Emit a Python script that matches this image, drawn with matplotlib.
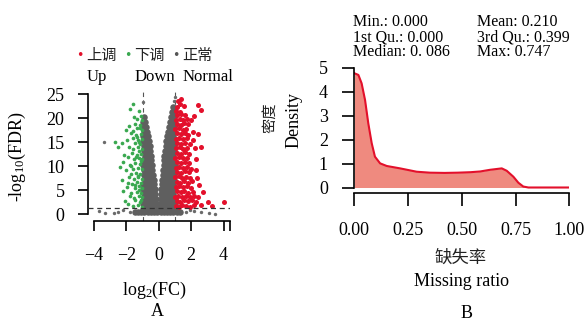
import matplotlib
matplotlib.use('Agg')
import matplotlib.pyplot as plt
import numpy as np

plt.rcParams['font.family'] = ['Liberation Serif', 'DejaVu Sans']
plt.rcParams['mathtext.fontset'] = 'custom'
plt.rcParams['mathtext.rm'] = 'Liberation Serif'
plt.rcParams['mathtext.default'] = 'regular'
plt.rcParams['axes.unicode_minus'] = True

CJK = ['Noto Sans CJK SC', 'DejaVu Sans']

# ---- panel A: volcano plot ----
up_pts = [
    (1.05, 1.8), (1.25, 1.6), (1.45, 1.9), (1.7, 1.7), (1.95, 1.5), (2.2, 2.0),
    (1.1, 2.8), (1.32, 2.6), (1.55, 2.9), (1.8, 2.7), (2.05, 3.0), (2.3, 2.5),
    (1.03, 3.7), (1.2, 3.9), (1.42, 3.6), (1.65, 3.8), (1.9, 3.5), (2.15, 3.9),
    (1.12, 4.8), (1.35, 4.6), (1.58, 4.9), (1.82, 4.5), (2.1, 4.7),
    (1.04, 5.7), (1.26, 5.9), (1.5, 5.6), (1.74, 5.8), (2.0, 5.5),
    (1.1, 6.8), (1.33, 6.6), (1.56, 6.9), (1.8, 6.5), (2.05, 7.0),
    (1.02, 7.7), (1.22, 7.9), (1.45, 7.6), (1.68, 7.8), (1.92, 7.5),
    (1.12, 8.8), (1.36, 8.6), (1.6, 8.9), (1.85, 8.7),
    (1.04, 9.7), (1.27, 9.9), (1.5, 9.6), (1.73, 9.8), (1.98, 9.5),
    (1.14, 10.8), (1.38, 10.6), (1.62, 10.9), (1.86, 10.7),
    (1.03, 11.7), (1.25, 11.9), (1.48, 11.6), (1.72, 11.8),
    (1.13, 12.8), (1.37, 12.6), (1.6, 12.9), (1.85, 12.5),
    (1.05, 13.7), (1.28, 13.9), (1.52, 13.6), (1.75, 13.8),
    (1.15, 14.8), (1.4, 14.6), (1.63, 14.9), (1.9, 14.7),
    (1.04, 15.7), (1.27, 15.9), (1.5, 15.6), (1.74, 15.8),
    (1.14, 16.8), (1.38, 16.6), (1.6, 16.9), (1.82, 16.5),
    (1.03, 17.7), (1.25, 17.9), (1.48, 17.6), (1.7, 17.8),
    (1.12, 18.8), (1.35, 18.6), (1.58, 18.9), (1.8, 18.7),
    (1.05, 19.7), (1.28, 19.9), (1.5, 19.6), (1.72, 19.8),
    (1.15, 20.7), (1.4, 20.9), (1.62, 20.6),
    (1.08, 21.5), (1.3, 21.3), (1.1, 22.4), (1.3, 22.9),
    (1.2, 23.5), (1.4, 24.0), (1.55, 22.5), (2.43, 22.7), (2.63, 21.7),
    (2.12, 17.2), (2.43, 16.7), (2.22, 13.7), (2.32, 9.2), (2.73, 4.7),
    (3.04, 2.6), (4.01, 2.6), (2.5, 6.0), (2.3, 11.5), (2.6, 14.0),
    (2.0, 19.5), (2.2, 20.5), (2.4, 3.5), (2.6, 2.0), (3.3, 1.8),
    (2.1, 15.5), (2.35, 7.5),
]

down_pts = [
    (-1.05, 1.6), (-1.3, 1.9), (-1.6, 1.7), (-1.9, 2.2), (-1.15, 2.6), (-1.45, 2.9), (-2.1, 2.8),
    (-1.02, 3.5), (-1.25, 3.8), (-1.55, 3.4), (-1.8, 3.9), (-1.1, 4.5), (-1.38, 4.7), (-1.7, 4.4),
    (-2.2, 4.8), (-1.04, 5.5), (-1.22, 5.8), (-1.5, 5.4), (-1.95, 5.7), (-1.12, 6.5), (-1.35, 6.8),
    (-1.65, 6.4), (-1.03, 7.4), (-1.28, 7.7), (-1.55, 7.3), (-1.85, 7.8), (-2.3, 7.2), (-1.15, 8.4),
    (-1.42, 8.6), (-1.72, 8.3), (-1.05, 9.4), (-1.3, 9.7), (-1.6, 9.5), (-2.0, 9.2), (-1.18, 10.4),
    (-1.45, 10.7), (-1.78, 10.3), (-1.02, 11.5), (-1.25, 11.8), (-1.55, 11.4), (-1.9, 11.9),
    (-1.12, 12.6), (-1.38, 12.4), (-1.68, 12.8), (-2.15, 12.3), (-1.04, 13.6), (-1.3, 13.9),
    (-1.6, 13.5), (-1.85, 14.0), (-1.15, 14.6), (-1.45, 14.9), (-2.3, 14.8), (-1.03, 15.7),
    (-1.28, 15.5), (-1.58, 15.9), (-1.95, 15.4), (-1.12, 16.7), (-1.4, 16.5), (-1.7, 16.9),
    (-1.05, 17.6), (-1.32, 17.9), (-1.62, 17.4), (-1.18, 18.6), (-1.5, 18.8), (-1.85, 18.3),
    (-1.06, 19.5), (-1.35, 19.8), (-1.1, 20.5), (-1.25, 21.5), (-1.55, 20.2), (-2.05, 17.5),
    (-2.2, 10.8), (-1.9, 6.5), (-1.6, 23.0), (-1.8, 21.8), (-2.7, 15.0), (-2.5, 14.0),
    (-1.2, 5.0), (-1.5, 6.0), (-1.3, 8.0), (-1.1, 11.0), (-1.4, 12.0), (-1.2, 15.0),
    (-1.35, 16.0), (-1.15, 18.0), (-1.08, 3.0), (-1.7, 10.0), (-2.4, 9.8), (-1.2, 13.2),
]

# non-significant genes, one row per -log10(FDR) level
normal_y = [0.4, 1.2, 2.2, 3.2, 4.2, 5.2, 6.2, 7.2, 8.2, 9.2, 10.2, 11.2,
            12.2, 13.2, 14.2, 15.2, 16.2, 17.2, 18.2, 19.2, 20.2, 21.2, 22.2]
normal_x = [
    [-1.5, -1.3, -1.1, -0.9, -0.7, -0.5, -0.3, -0.12, 0.12, 0.3, 0.5, 0.7, 0.9, 1.1, 1.3],
    [-0.98, -0.86, -0.68, -0.5, -0.32, -0.14, 0.1, 0.28, 0.46, 0.64, 0.82, 0.98],
    [-0.98, -0.88, -0.7, -0.52, -0.34, -0.16, 0.1, 0.28, 0.46, 0.64, 0.82, 0.98],
    [-0.91, -0.73, -0.55, -0.37, -0.19, 0.12, 0.3, 0.48, 0.66, 0.84, 0.98],
    [-0.94, -0.76, -0.58, -0.4, -0.22, 0.14, 0.32, 0.5, 0.68, 0.86],
    [-0.96, -0.79, -0.61, -0.43, -0.25, 0.16, 0.34, 0.52, 0.7, 0.88],
    [-0.97, -0.82, -0.64, -0.46, -0.28, 0.18, 0.36, 0.54, 0.72, 0.9],
    [-0.86, -0.68, -0.5, -0.32, 0.2, 0.38, 0.56, 0.74, 0.92],
    [-0.9, -0.72, -0.54, -0.36, 0.23, 0.41, 0.59, 0.77, 0.94],
    [-0.94, -0.76, -0.58, -0.4, 0.26, 0.44, 0.62, 0.8, 0.96],
    [-0.96, -0.8, -0.62, -0.44, 0.29, 0.47, 0.65, 0.83, 0.97],
    [-0.97, -0.83, -0.65, -0.47, 0.32, 0.5, 0.68, 0.86],
    [-0.86, -0.68, -0.5, 0.35, 0.53, 0.71, 0.89],
    [-0.89, -0.71, -0.53, 0.39, 0.57, 0.75, 0.92],
    [-0.93, -0.75, -0.57, 0.43, 0.61, 0.79, 0.95],
    [-0.96, -0.79, -0.61, 0.47, 0.65, 0.83, 0.96],
    [-0.98, -0.84, -0.66, 0.52, 0.7, 0.88],
    [-0.9, -0.72, 0.57, 0.75, 0.92],
    [-0.95, -0.78, 0.62, 0.8, 0.95],
    [-0.98, -0.86, 0.7, 0.86],
    [-0.93, 0.78, 0.92],
    [0.82, 0.95],
    [0.9],
]
# scattered non-significant genes away from the main cloud
stray_pts = [(-3.4, 15.0), (-3.7, 0.6), (-3.3, 0.3), (-2.5, 0.5), (-2.2, 0.9), (-1.8, 0.4),
             (2.2, 0.7), (2.6, 0.4), (3.1, 0.2), (3.5, 0.1), (-2.8, 0.2), (1.7, 0.5),
             (1.9, 0.9), (-0.97, 23.4), (0.95, 23.6), (0.97, 24.4)]

# ---- panel B: density of missing ratio ----
miss_x = [0.0, 0.019, 0.034, 0.05, 0.065, 0.081, 0.096, 0.12, 0.151, 0.213, 0.29,
          0.352, 0.42, 0.48, 0.54, 0.585, 0.631, 0.686, 0.709, 0.74, 0.763, 0.786,
          0.81, 0.85, 1.0]
miss_dens = [4.78, 4.71, 4.36, 3.66, 2.69, 1.85, 1.29, 1.01, 0.90, 0.80, 0.66,
             0.62, 0.61, 0.62, 0.64, 0.67, 0.74, 0.80, 0.70, 0.45, 0.20, 0.04,
             0.0, 0.0, 0.0]
stats_left = ['Min.: 0.000', '1st Qu.: 0.000', 'Median: 0. 086']
stats_right = ['Mean: 0.210', '3rd Qu.: 0.399', 'Max: 0.747']

W, H = 586, 320
fig = plt.figure(figsize=(W / 100, H / 100), dpi=100)

def frac(x0, y_top, x1, y_bot):
    return [x0 / W, 1 - y_bot / H, (x1 - x0) / W, (y_bot - y_top) / H]

# ---------- A ----------
ax = fig.add_axes(frac(88, 91.6, 230, 221))
nx = [x for row in normal_x for x in row]
ny = [y for y, row in zip(normal_y, normal_x) for _ in row]
up = np.array(up_pts)
down = np.array(down_pts)
stray = np.array(stray_pts)
ax.scatter(nx, ny, s=22, color='#5f5f5f', linewidths=0, zorder=2)
ax.scatter(stray[:, 0], stray[:, 1], s=6, color='#6a6a6a', linewidths=0, zorder=2)
ax.scatter(down[:, 0], down[:, 1], s=7, color='#3aa850', linewidths=0, zorder=3)
ax.scatter(up[:, 0], up[:, 1], s=13, color='#e3102b', linewidths=0, zorder=3)
ax.axhline(-np.log10(0.05), color='#333333', lw=0.9, ls=(0, (4, 3)), zorder=4)
for v in (-1, 1):
    ax.axvline(v, color='#555555', lw=0.8, ls=(0, (4, 3)), zorder=1)
ax.set_xlim(-4.38, 4.38)
ax.set_ylim(-1.39, 25.5)
ax.set_xticks([-4, -2, 0, 2, 4])
ax.set_yticks([0, 5, 10, 15, 20, 25])
ax.set_xticks([4.4], minor=True)
ax.spines['top'].set_visible(False)
ax.spines['right'].set_visible(False)
ax.spines['left'].set_bounds(0, 25)
ax.spines['bottom'].set_bounds(-4, 4.4)
ax.tick_params(axis='y', length=7, width=1.2, pad=10, labelsize=13)
ax.tick_params(axis='x', length=7, width=1.2, pad=12, labelsize=13)
ax.tick_params(axis='x', which='minor', length=7, width=1.2)
for s in ax.spines.values():
    s.set_linewidth(1.2)
fig.text(17 / W, 1 - 157 / H, '-log$_{10}$(FDR)', rotation=90, ha='center', va='center', fontsize=13)
fig.text(155 / W, 1 - 290 / H, 'log$_{2}$(FC)', ha='center', va='center', fontsize=13)
fig.text(157 / W, 1 - 312 / H, 'A', ha='center', va='center', fontsize=13)

legend_items = [('上调', '#e3102b', 80), ('下调', '#3aa850', 128), ('正常', '#555555', 176)]
for zh, col, x0 in legend_items:
    fig.text(x0 / W, 1 - 55 / H, '•', color=col, ha='center', va='center', fontsize=9, family=['DejaVu Sans'])
    fig.text((x0 + 6) / W, 1 - 55 / H, zh, ha='left', va='center', fontsize=11, family=CJK, color='#222222')
for en, x0 in (('Up', 87), ('Down', 135), ('Normal', 183)):
    fig.text(x0 / W, 1 - 77 / H, en, ha='left', va='center', fontsize=12)

# ---------- B ----------
bx = fig.add_axes(frac(354.3, 65.6, 569.3, 193))
bx.fill_between(miss_x, miss_dens, 0, color='#ef8a7f', linewidth=0)
bx.plot(miss_x, miss_dens, color='#e3102b', lw=1.5)
bx.set_xlim(0, 1)
bx.set_ylim(-0.23, 5.1)
bx.set_xticks([0, 0.25, 0.5, 0.75, 1.0])
bx.set_xticklabels(['0.00', '0.25', '0.50', '0.75', '1.00'])
bx.set_yticks([0, 1, 2, 3, 4, 5])
bx.spines['top'].set_visible(False)
bx.spines['right'].set_visible(False)
bx.spines['left'].set_bounds(0, 5)
for s in bx.spines.values():
    s.set_linewidth(1.2)
bx.tick_params(axis='y', length=9, width=1.2, pad=10, labelsize=13)
bx.tick_params(axis='x', length=9, width=1.2, pad=12, labelsize=13)
fig.text(270 / W, 1 - 118 / H, '密度', rotation=90, ha='center', va='center', fontsize=11, family=CJK, color='#222222')
fig.text(294 / W, 1 - 120 / H, 'Density', rotation=90, ha='center', va='center', fontsize=13)
fig.text(461 / W, 1 - 258 / H, '缺失率', ha='center', va='center', fontsize=12.5, family=CJK, color='#222222')
fig.text(461 / W, 1 - 282 / H, 'Missing ratio', ha='center', va='center', fontsize=13)
fig.text(467 / W, 1 - 313 / H, 'B', ha='center', va='center', fontsize=13)

for i, (l, r) in enumerate(zip(stats_left, stats_right)):
    yy = 1 - (21.5 + 15.5 * i) / H
    fig.text(353 / W, yy, l, ha='left', va='center', fontsize=11.5)
    fig.text(477 / W, yy, r, ha='left', va='center', fontsize=11.5)

fig.savefig('out.png', dpi=100)
